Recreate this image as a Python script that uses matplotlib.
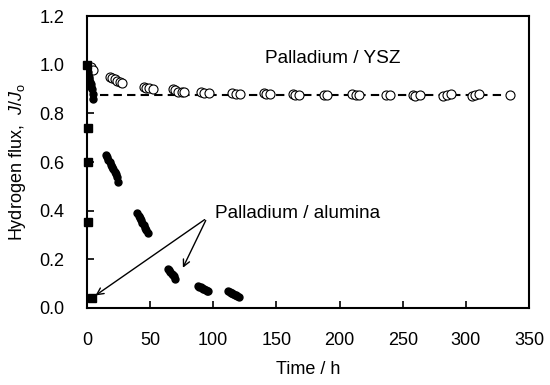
import matplotlib
matplotlib.use("Agg")
import matplotlib.pyplot as plt

plt.rcParams['font.family'] = ['Liberation Sans', 'DejaVu Sans']
plt.rcParams['mathtext.fontset'] = 'custom'
plt.rcParams['mathtext.it'] = 'Liberation Sans:italic'
plt.rcParams['mathtext.rm'] = 'Liberation Sans'

# Palladium / alumina: squares
t_sq = [0, 0.5, 0.5, 0.5, 4]
j_sq = [1.0, 0.74, 0.60, 0.355, 0.04]

# Palladium / alumina: filled circles
t_al = [0.5, 1, 1.5, 2, 2.5, 3, 3.5, 4, 4.5, 5,
        15, 16, 17, 18, 19, 20, 21, 22, 23, 24, 25,
        40, 41, 42, 43, 44, 45, 46, 47, 48,
        64, 65, 66, 67, 68, 69, 70,
        88, 89, 90, 91, 92, 93, 94, 95, 96,
        112, 113, 114, 115, 116, 117, 118, 119, 120]
j_al = [0.97, 0.96, 0.95, 0.94, 0.93, 0.92, 0.91, 0.90, 0.88, 0.86,
        0.63, 0.62, 0.61, 0.60, 0.59, 0.58, 0.57, 0.56, 0.55, 0.54, 0.52,
        0.39, 0.38, 0.37, 0.36, 0.35, 0.34, 0.33, 0.32, 0.31,
        0.16, 0.155, 0.15, 0.14, 0.135, 0.13, 0.12,
        0.09, 0.088, 0.085, 0.082, 0.08, 0.077, 0.074, 0.071, 0.068,
        0.068, 0.065, 0.062, 0.06, 0.057, 0.055, 0.052, 0.05, 0.047]

# Palladium / YSZ: open circles
t_ysz = [3, 5,
         18, 20, 22, 24, 26, 28,
         45, 47, 49, 52,
         68, 70, 72, 75, 77,
         90, 93, 97,
         115, 118, 121,
         140, 142, 145,
         163, 165, 168,
         188, 190,
         210, 213, 215,
         237, 240,
         258, 260, 264,
         282, 285, 288,
         305, 307, 310,
         335]
j_ysz = [0.99, 0.98,
         0.95, 0.945, 0.94, 0.935, 0.93, 0.925,
         0.91, 0.905, 0.905, 0.90,
         0.90, 0.895, 0.89, 0.89, 0.89,
         0.89, 0.885, 0.885,
         0.885, 0.88, 0.88,
         0.885, 0.88, 0.88,
         0.88, 0.875, 0.875,
         0.875, 0.875,
         0.88, 0.875, 0.875,
         0.875, 0.875,
         0.875, 0.87, 0.875,
         0.87, 0.875, 0.88,
         0.87, 0.875, 0.88,
         0.875]

# dashed reference level
t_ref = [10, 341]
j_ref = [0.875, 0.875]

FS = 13

fig = plt.figure(figsize=(5.5, 3.85), dpi=100)
ax = fig.add_axes([0.158, 0.2, 0.804, 0.758])

ax.plot(t_ref, j_ref, color='black', ls=(0, (4, 2.5)), lw=1.5, zorder=1)
ax.plot(t_ysz, j_ysz, 'o', mfc='white', mec='black', mew=0.8, ms=6.5, ls='none', zorder=3)
ax.plot(t_al, j_al, 'o', color='black', ms=5, ls='none', zorder=3)
ax.plot(t_sq, j_sq, 's', color='black', ms=6, ls='none', zorder=4, clip_on=False)

ax.text(141, 1.025, 'Palladium / YSZ', fontsize=13.7, va='center', ha='left')
ax.text(101, 0.39, 'Palladium / alumina', fontsize=13.7, va='center', ha='left')

arrowprops = dict(arrowstyle='->', color='black', lw=1.0, mutation_scale=12)
ax.annotate('', xy=(5, 0.045), xytext=(95, 0.37), arrowprops=arrowprops)
ax.annotate('', xy=(75, 0.155), xytext=(95, 0.37), arrowprops=arrowprops)

ax.set_xlim(0, 350)
ax.set_ylim(0, 1.2)
ax.set_xticks([0, 50, 100, 150, 200, 250, 300, 350])
ax.set_yticks([0.0, 0.2, 0.4, 0.6, 0.8, 1.0, 1.2])
ax.set_yticklabels(['0.0', '0.2', '0.4', '0.6', '0.8', '1.0', '1.2'])
ax.tick_params(direction='in', length=5, width=1.2, labelsize=FS)
ax.tick_params(axis='y', pad=16)
ax.tick_params(axis='x', pad=17)
for s in ax.spines.values():
    s.set_linewidth(1.5)
ax.set_xlabel('Time / h', fontsize=FS, labelpad=9)
ax.set_ylabel(r'Hydrogen flux,  $J$/$J_{\rm o}$', fontsize=FS, labelpad=8)

fig.savefig('out.png', dpi=100)
